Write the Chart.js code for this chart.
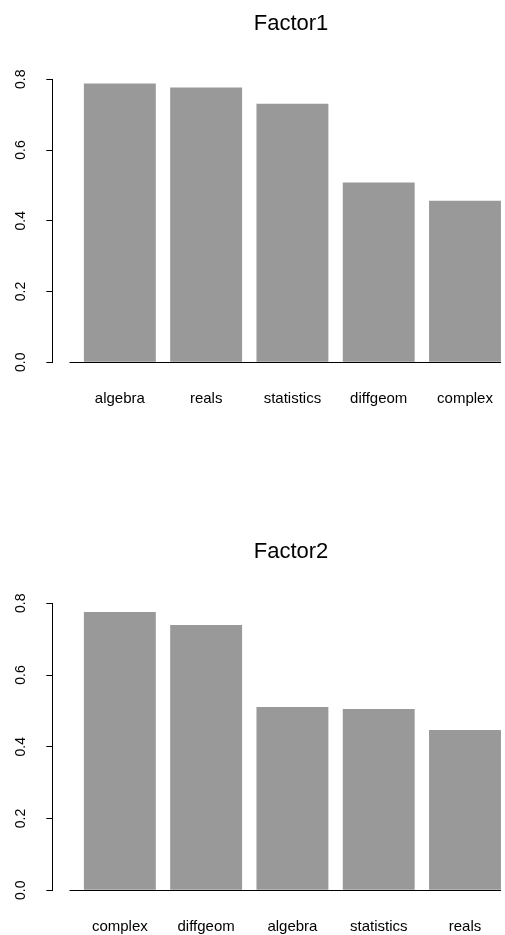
<!DOCTYPE html>
<html>
<head>
<meta charset="utf-8">
<script src="https://cdn.jsdelivr.net/npm/chart.js@4"></script>
<style>
  html, body { margin: 0; padding: 0; background: #ffffff; overflow: hidden; }
  .panel { position: absolute; left: 0; width: 505px; }
  #p1 { top: 0; height: 467px; }
  #p2 { top: 467px; height: 468px; }
</style>
</head>
<body>
<div class="panel" id="p1"><canvas id="c1"></canvas></div>
<div class="panel" id="p2"><canvas id="c2"></canvas></div>
<script>
// ---- data ----
const titles = ["Factor1", "Factor2"];
const categories1 = ["algebra", "reals", "statistics", "diffgeom", "complex"];
const values1 = [0.788, 0.777, 0.731, 0.508, 0.457];
const categories2 = ["complex", "diffgeom", "algebra", "statistics", "reals"];
const values2 = [0.776, 0.7395, 0.511, 0.5055, 0.447];
const yTicks = [0.0, 0.2, 0.4, 0.6, 0.8];

// ---- style ----
const FONT = "'Liberation Sans', Arial, Helvetica, sans-serif";
const BAR_COLOR = "#999999";
const X_AXIS_H = 46;

function makeChart(canvasId, title, cats, vals, lay) {
  const ctx = document.getElementById(canvasId);
  const decor = {
    id: 'decor',
    afterDraw(chart) {
      const c = chart.ctx;
      const xs = chart.scales.x, ys = chart.scales.y;
      c.save();
      // title
      c.fillStyle = '#000';
      c.font = "22px " + FONT;
      c.textAlign = 'center';
      c.textBaseline = 'alphabetic';
      c.fillText(title, lay.titleX, lay.titleBase);
      // baseline at 0
      const y0 = Math.round(ys.getPixelForValue(0)) + 0.5;
      c.strokeStyle = '#000';
      c.lineWidth = 1;
      c.beginPath();
      c.moveTo(xs.getPixelForValue(0.4167), y0);
      c.lineTo(xs.getPixelForValue(cats.length + 0.4167), y0);
      c.stroke();
      // rotated y tick labels
      c.font = "14px " + FONT;
      c.textAlign = 'center';
      c.textBaseline = 'alphabetic';
      ys.ticks.forEach(t => {
        const py = ys.getPixelForValue(t.value);
        c.save();
        c.translate(25, py);
        c.rotate(-Math.PI / 2);
        c.fillText(t.value.toFixed(1), 0, 0);
        c.restore();
      });
      c.restore();
    }
  };
  return new Chart(ctx, {
    type: 'bar',
    data: {
      datasets: [{
        data: vals.map((v, i) => ({ x: i + 1, y: v })),
        backgroundColor: BAR_COLOR,
        borderWidth: 0,
        categoryPercentage: 1.0,
        barPercentage: 0.8333
      }]
    },
    options: {
      responsive: true,
      maintainAspectRatio: false,
      animation: false,
      events: [],
      layout: { padding: { left: 46.3, right: 0, top: lay.top, bottom: lay.bottom } },
      plugins: { legend: { display: false }, title: { display: false }, tooltip: { enabled: false } },
      scales: {
        x: {
          type: 'linear',
          offset: false,
          min: 0.2172,
          max: 5.4635,
          grid: { display: false, drawTicks: false },
          border: { display: false },
          afterFit: (s) => { s.height = X_AXIS_H; s.paddingLeft = 0; s.paddingRight = 0; s.paddingTop = 0; s.paddingBottom = 0; },
          ticks: {
            stepSize: 1,
            includeBounds: false,
            autoSkip: false,
            maxRotation: 0,
            padding: 28,
            color: '#000',
            font: { family: FONT, size: 15 },
            callback: (v) => (Number.isInteger(v) && v >= 1 && v <= cats.length) ? cats[v - 1] : ''
          }
        },
        y: {
          min: 0,
          max: 0.8,
          afterBuildTicks: (s) => { s.ticks = yTicks.map(v => ({ value: v })); },
          afterFit: (s) => { s.paddingTop = 0; s.paddingBottom = 0; },
          grid: { display: true, drawOnChartArea: false, drawTicks: true, tickLength: 6, color: '#000', lineWidth: 1 },
          border: { display: true, color: '#000', width: 1 },
          ticks: { display: false }
        }
      }
    },
    plugins: [decor]
  });
}

makeChart('c1', titles[0], categories1, values1, { top: 79.3, bottom: 467 - 362.3 - X_AXIS_H, titleX: 291, titleBase: 30 });
makeChart('c2', titles[1], categories2, values2, { top: 136.3, bottom: 468 - 423.3 - X_AXIS_H, titleX: 291, titleBase: 91.3 });
</script>
</body>
</html>
